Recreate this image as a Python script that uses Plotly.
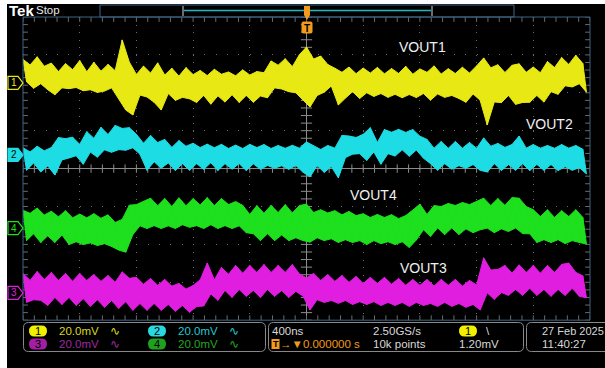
import numpy as np
import plotly.graph_objects as go

W, H = 605, 368

# ---------------- data ----------------
# time base 400 ns/div, 10 divisions -> -2000 .. 2000 ns; envelope samples every 50 ns
t_start_ns = -2000
t_step_ns = 50
half_step_ns = 25
mv_per_div = 20.0

# channel vertical positions (divisions from screen centre)
ch_position = {"1": 2.26, "2": 0.36, "4": -1.57, "3": -3.28}
ch_label = {"1": "VOUT1", "2": "VOUT2", "4": "VOUT4", "3": "VOUT3"}

# upper / lower noise envelope of each trace, mV relative to its ground marker
ch1_hi = [12.5, 9.5, 13.8, 8.8, 10.5, 6.0, 10.2, 7.0, 11.8, 5.9,
          10.9, 6.2, 9.8, 6.5, 22.7, 11.0, 4.5, 8.9, 5.2, 10.6,
          4.2, 7.8, 3.6, 8.1, 4.4, 6.6, 3.9, 7.2, 4.6, 5.8,
          3.8, 6.9, 4.2, 6.0, 5.4, 11.6, 9.4, 12.8, 8.6, 14.9,
          19.0, 12.6, 14.2, 9.7, 7.8, 5.6, 8.4, 4.9, 7.9, 5.2,
          8.2, 4.8, 7.6, 5.0, 8.8, 4.6, 7.4, 5.6, 9.0, 4.7,
          7.5, 5.0, 8.3, 5.2, 9.0, 13.2, 8.0, 9.6, 5.5, 9.3,
          10.1, 5.6, 8.4, 5.4, 11.3, 8.1, 13.4, 9.8, 14.6, 10.2]
ch1_lo = [0.6, -2.8, -0.4, -3.6, -6.2, -2.6, -3.0, -2.4, -4.1, -3.6,
          -5.0, -4.3, -2.6, -8.2, -14.3, -16.9, -6.4, -7.4, -10.2, -14.3,
          -5.6, -9.2, -7.6, -8.4, -10.3, -6.6, -11.2, -6.8, -10.1, -6.2,
          -10.3, -6.6, -10.2, -6.9, -7.8, -2.6, -3.2, -4.6, -5.2, -9.0,
          -12.7, -6.6, -4.9, -1.6, -11.6, -8.0, -4.6, -8.2, -5.2, -7.1,
          -5.6, -7.6, -6.0, -7.8, -6.1, -7.7, -5.6, -9.1, -5.8, -7.6,
          -6.6, -8.2, -10.2, -5.8, -9.1, -22.2, -10.0, -10.4, -6.6, -11.3,
          -10.3, -10.2, -6.6, -10.1, -4.6, -6.0, -1.5, -2.1, -0.4, -4.9]

ch2_hi = [3.8, 1.6, 4.6, 2.2, 3.9, 9.2, 8.6, 9.4, 5.6, 12.3,
          8.8, 14.6, 10.8, 15.6, 14.0, 14.4, 10.9, 6.2, 10.3, 6.6,
          8.2, 4.0, 7.6, 4.6, 6.2, 3.9, 5.7, 3.8, 5.6, 3.4,
          5.2, 3.4, 5.6, 3.9, 5.5, 3.4, 5.0, 3.5, 5.1, 3.6,
          6.9, 4.9, 2.9, 5.0, 3.6, 10.3, 10.0, 9.2, 10.9, 14.4,
          6.6, 13.4, 12.0, 13.5, 11.9, 13.4, 9.9, 8.2, 3.6, 7.1,
          3.5, 7.1, 3.6, 6.6, 3.5, 9.0, 4.6, 6.1, 4.0, 5.5,
          10.0, 3.6, 5.5, 3.6, 5.0, 3.5, 5.5, 3.6, 5.0, 3.0]
ch2_lo = [-8.1, -4.2, -9.0, -5.8, -10.6, -2.6, -1.6, -0.4, -4.9, 1.5,
          -1.2, 2.7, 1.4, 2.8, 2.5, 3.8, 0.4, -8.1, -3.6, -7.0,
          -4.2, -8.2, -4.6, -8.1, -4.6, -7.6, -4.1, -8.2, -4.6, -7.5,
          -4.6, -8.2, -4.7, -7.6, -5.6, -7.0, -5.7, -7.6, -5.6, -9.1,
          -11.6, -5.6, -9.2, -6.1, -12.1, -1.4, 0.4, 0.7, -2.9, 1.6,
          -4.9, 0.7, -0.6, 2.7, -0.7, 2.6, -1.7, -4.6, -8.1, -4.6,
          -7.5, -5.7, -7.0, -5.1, -8.1, -9.0, -4.6, -8.2, -5.1, -8.1,
          -4.6, -8.2, -5.0, -8.1, -5.1, -8.2, -6.2, -8.1, -6.7, -10.0]

ch4_hi = [9.4, 7.8, 10.6, 6.9, 8.9, 6.0, 9.2, 5.4, 7.4, 5.4,
          7.6, 5.2, 7.0, 3.0, 4.6, 12.1, 12.4, 14.2, 15.8, 11.8,
          15.6, 11.4, 16.0, 11.8, 15.6, 12.2, 16.1, 11.8, 15.6, 12.4,
          14.0, 12.0, 7.2, 11.9, 7.8, 12.0, 8.2, 12.4, 8.0, 11.9,
          12.7, 8.2, 9.7, 8.0, 9.2, 7.0, 8.8, 6.6, 7.6, 5.6,
          7.2, 5.6, 7.1, 5.0, 6.6, 9.5, 12.7, 7.2, 11.9, 11.4,
          13.0, 11.9, 13.5, 12.4, 14.0, 15.8, 11.9, 15.6, 12.0, 16.1,
          15.8, 11.4, 9.7, 6.1, 9.7, 5.6, 9.2, 6.1, 9.7, 5.6]
ch4_lo = [-6.6, -3.0, -7.6, -4.1, -7.6, -3.6, -8.7, -7.2, -8.7, -7.8,
          -9.2, -8.2, -9.7, -11.6, -12.7, -3.4, 1.2, -0.2, 1.3, -0.2,
          1.2, -0.2, 1.8, 0.4, 1.3, -0.2, 1.8, -0.2, 1.3, -0.2,
          1.2, -2.4, -3.0, -6.6, -3.0, -6.6, -3.6, -6.6, -5.1, -6.6,
          -7.4, -5.1, -6.6, -5.6, -7.6, -6.1, -7.6, -6.6, -8.7, -6.6,
          -8.2, -7.2, -8.7, -7.2, -10.2, -6.3, -0.9, -4.4, 0.1, -3.4,
          0.1, -3.4, -0.4, -2.4, -0.9, 0.0, -2.4, -0.4, -1.8, 0.1,
          -2.9, -3.0, -7.6, -6.1, -7.6, -6.1, -8.2, -6.6, -7.6, -8.4]

ch3_hi = [10.3, 6.6, 11.3, 7.1, 10.8, 6.6, 10.3, 6.1, 10.3, 6.6,
          9.7, 6.1, 9.2, 5.6, 11.1, 7.7, 8.2, 4.6, 7.6, 4.0,
          7.1, 3.6, 5.0, 2.0, 3.9, 6.9, 15.8, 6.9, 13.4, 9.8,
          14.5, 10.4, 14.5, 10.8, 15.0, 10.8, 14.5, 10.8, 15.0, 10.0,
          7.9, 10.3, 6.6, 9.7, 6.1, 9.2, 5.6, 8.7, 5.0, 8.2,
          5.0, 8.2, 4.6, 7.6, 4.0, 7.1, 4.0, 7.1, 3.6, 7.1,
          4.0, 7.1, 3.6, 6.6, 4.2, 18.5, 12.1, 12.4, 14.5, 10.4,
          14.8, 10.8, 14.5, 10.4, 14.5, 10.8, 15.0, 15.8, 10.8, 9.0]
ch3_lo = [-5.0, -3.6, -3.9, -6.6, -2.4, -6.1, -2.4, -6.6, -3.0, -7.1,
          -3.6, -7.6, -4.0, -8.2, -4.6, -9.2, -5.6, -9.2, -5.6, -9.2,
          -6.1, -9.7, -6.6, -10.2, -7.2, -6.9, -0.5, -3.9, 1.3, -2.4,
          1.8, -1.8, 1.3, -2.4, 1.8, -1.8, 1.3, -2.4, 0.8, -1.6,
          -9.0, -3.6, -5.0, -4.0, -5.5, -4.0, -6.1, -4.6, -6.1, -4.6,
          -6.6, -5.0, -6.6, -5.0, -7.1, -5.0, -6.6, -5.6, -7.1, -5.0,
          -7.1, -5.6, -7.6, -6.1, -9.0, 0.0, -3.4, 0.2, -1.3, 1.8,
          -1.3, 2.4, -1.3, 1.8, -1.8, 1.8, -1.3, 2.4, -1.8, -2.6]

envelopes = {"1": (ch1_hi, ch1_lo), "2": (ch2_hi, ch2_lo),
             "4": (ch4_hi, ch4_lo), "3": (ch3_hi, ch3_lo)}

# ---------------- styling ----------------
COL = {"1": "#e8e814", "2": "#1edce4", "4": "#1ee01e", "3": "#e01ee0"}
FONT = "Liberation Sans, Arial, sans-serif"
X0, X1, Y0, Y1 = 23, 590, 17, 320.2  # screen (graticule) in pixels
PX_PER_DIV_Y = (Y1 - Y0) / 8

fig = go.Figure()

# graticule minor ticks on the centre lines and the edges
minor_t = np.arange(-2000, 2000.1, 80)
minor_v = np.arange(-4, 4.001, 0.2)
tick_col = "#8c8c8c"
fig.add_trace(go.Scatter(x=minor_t, y=np.zeros_like(minor_t), mode="markers",
                         marker=dict(symbol="line-ns", size=6, line=dict(color=tick_col, width=1)),
                         hoverinfo="skip"))
fig.add_trace(go.Scatter(x=np.zeros_like(minor_v), y=minor_v, mode="markers",
                         marker=dict(symbol="line-ew", size=8, line=dict(color=tick_col, width=1)),
                         hoverinfo="skip"))
for yy in (4, -4):
    fig.add_trace(go.Scatter(x=minor_t, y=np.full_like(minor_t, yy), mode="markers",
                             marker=dict(symbol="line-ns", size=7, line=dict(color="#6a6a6a", width=1)),
                             hoverinfo="skip"))
for xx in (2000, -2000):
    fig.add_trace(go.Scatter(x=np.full_like(minor_v, xx), y=minor_v, mode="markers",
                             marker=dict(symbol="line-ew", size=7, line=dict(color="#6a6a6a", width=1)),
                             hoverinfo="skip"))

# waveforms: noise band between the lower and upper envelopes, plus the sample zig-zag
for ch in ["1", "2", "4", "3"]:
    hi, lo = envelopes[ch]
    n = len(hi)
    t_hi = t_start_ns + t_step_ns * np.arange(n)
    t_lo = t_hi + half_step_ns
    y_hi = ch_position[ch] + np.array(hi) / mv_per_div
    y_lo = ch_position[ch] + np.array(lo) / mv_per_div
    fig.add_trace(go.Scatter(x=t_lo, y=y_lo, mode="lines", line=dict(color=COL[ch], width=1),
                             hoverinfo="skip"))
    fig.add_trace(go.Scatter(x=t_hi, y=y_hi, mode="lines", line=dict(color=COL[ch], width=1),
                             fill="tonexty", fillcolor=COL[ch], hoverinfo="skip", name=ch_label[ch]))
    t = np.empty(2 * n)
    v = np.empty(2 * n)
    t[0::2], t[1::2] = t_hi, t_lo
    v[0::2], v[1::2] = y_hi, y_lo
    fig.add_trace(go.Scatter(x=t, y=v, mode="lines", line=dict(color=COL[ch], width=1),
                             hoverinfo="skip"))

# ---------------- helpers ----------------
def fx(x):
    return x / W


def fy(y):
    return 1 - y / H


def pt(x, y):
    return f"{fx(x):.5f},{fy(y):.5f}"


def rrect(x0, y0, x1, y1, r):
    return ("M " + pt(x0 + r, y0) + " L " + pt(x1 - r, y0) + " Q " + pt(x1, y0) + " " + pt(x1, y0 + r) +
            " L " + pt(x1, y1 - r) + " Q " + pt(x1, y1) + " " + pt(x1 - r, y1) +
            " L " + pt(x0 + r, y1) + " Q " + pt(x0, y1) + " " + pt(x0, y1 - r) +
            " L " + pt(x0, y0 + r) + " Q " + pt(x0, y0) + " " + pt(x0 + r, y0) + " Z")


shapes = []
annos = []


def txt(x, y, s, color="#d8d8d8", size=11, anchor="left", bold=False, family=FONT):
    annos.append(dict(xref="paper", yref="paper", x=fx(x), y=fy(y), text=(f"<b>{s}</b>" if bold else s),
                      showarrow=False, xanchor=anchor, yanchor="middle",
                      font=dict(family=family, size=size, color=color), borderpad=0))


# black instrument background
shapes.append(dict(type="rect", xref="paper", yref="paper", x0=fx(7), x1=1.01, y0=-0.01, y1=fy(4),
                   fillcolor="black", line=dict(width=0), layer="below"))
# screen frame
frame_col = "#3f6585"
shapes.append(dict(type="rect", xref="x domain", yref="y domain", x0=0, x1=1, y0=0, y1=1,
                   line=dict(color=frame_col, width=1)))

# top bar: record view
shapes.append(dict(type="rect", xref="paper", yref="paper", x0=fx(100), x1=fx(514), y0=fy(17), y1=fy(5),
                   line=dict(color=frame_col, width=1)))
shapes.append(dict(type="line", xref="paper", yref="paper", x0=fx(184), x1=fx(431), y0=fy(10.5), y1=fy(10.5),
                   line=dict(color="#20b8c0", width=1.5)))
for bx in (183, 432):
    shapes.append(dict(type="line", xref="paper", yref="paper", x0=fx(bx), x1=fx(bx), y0=fy(6), y1=fy(16),
                       line=dict(color="#909090", width=1.5)))
txt(8, 10, "Tek", "#ffffff", 15, bold=True)
txt(35, 10, "Stop", "#e8e8e8", 11.5)

# trigger position markers (orange)
ORANGE = "#f39a1c"
shapes.append(dict(type="path", xref="paper", yref="paper",
                   path="M " + pt(304, 6) + " L " + pt(310, 6) + " L " + pt(310, 15) + " L " + pt(307, 20) +
                        " L " + pt(304, 15) + " Z",
                   fillcolor=ORANGE, line=dict(width=0)))
shapes.append(dict(type="path", xref="paper", yref="paper", path=rrect(301.5, 21.5, 312.5, 33.5, 2),
                   fillcolor=ORANGE, line=dict(width=0)))
txt(307, 28, "T", "#000000", 10, anchor="center", bold=True)

# channel ground markers on the left
tag_h = 6.5 / PX_PER_DIV_Y
for ch in ["1", "2", "4", "3"]:
    yc = ch_position[ch]
    filled = ch == "2"
    path = (f"M {fx(8):.5f},{yc + tag_h:.5f} L {fx(18):.5f},{yc + tag_h:.5f} L {fx(23):.5f},{yc:.5f} "
            f"L {fx(18):.5f},{yc - tag_h:.5f} L {fx(8):.5f},{yc - tag_h:.5f} Z")
    shapes.append(dict(type="path", xref="paper", yref="y", path=path,
                       fillcolor=COL[ch] if filled else "black", line=dict(color=COL[ch], width=1.2)))
    annos.append(dict(xref="paper", yref="y", x=fx(14), y=yc, text=ch, showarrow=False,
                      xanchor="center", yanchor="middle",
                      font=dict(family=FONT, size=10, color="black" if filled else COL[ch])))

# channel labels
label_pos = {"1": (638, 3.21), "2": (1534, 1.17), "4": (293, -0.70), "3": (645, -2.63)}
for ch, (lx, ly) in label_pos.items():
    annos.append(dict(xref="x", yref="y", x=lx, y=ly, text=ch_label[ch], showarrow=False,
                      xanchor="left", yanchor="middle",
                      font=dict(family=FONT, size=14, color="#f0f0f0")))

# ---------------- bottom status bar ----------------
box_col = "#8a8a8a"
shapes.append(dict(type="path", xref="paper", yref="paper", path=rrect(23.5, 322.5, 265.5, 351.5, 5),
                   line=dict(color=box_col, width=1)))
shapes.append(dict(type="path", xref="paper", yref="paper", path=rrect(268.5, 322.5, 523.5, 351.5, 5),
                   line=dict(color=box_col, width=1)))
shapes.append(dict(type="path", xref="paper", yref="paper", path=rrect(526.5, 322.5, 640, 351.5, 5),
                   line=dict(color=box_col, width=1)))

ch_settings = [("1", "20.0mV", 29, 331, "#f0f000", "#d8d820"),
               ("2", "20.0mV", 148, 331, "#2ad8e0", "#22c8d0"),
               ("3", "20.0mV", 29, 344, "#a21ea2", "#a028a0"),
               ("4", "20.0mV", 148, 344, "#1fa01f", "#20a820")]
for ch, s, x0, yc, pill, tcol in ch_settings:
    shapes.append(dict(type="path", xref="paper", yref="paper", path=rrect(x0, yc - 5.5, x0 + 18, yc + 5.5, 5.5),
                       fillcolor=pill, line=dict(width=0)))
    txt(x0 + 9, yc, ch, "#000000", 11, anchor="center")
    txt(x0 + 29, yc, s, tcol, 11.5)
    txt(x0 + 80, yc, "∿", tcol, 12, family="DejaVu Sans")

# horizontal / acquisition / trigger box
txt(271, 331, "400ns", "#d8d8d8", 11.5)
txt(372, 331, "2.50GS/s", "#d8d8d8", 11.5)
shapes.append(dict(type="path", xref="paper", yref="paper", path=rrect(459, 325.5, 477, 336.5, 5.5),
                   fillcolor="#f0f000", line=dict(width=0)))
txt(468, 331, "1", "#000000", 11, anchor="center")
txt(485, 331, "\\", "#d8d8d8", 11.5)
shapes.append(dict(type="rect", xref="paper", yref="paper", x0=fx(271.5), x1=fx(279.5), y0=fy(349), y1=fy(339),
                   fillcolor=ORANGE, line=dict(width=0)))
txt(275.5, 344, "T", "#000000", 9, anchor="center", bold=True)
txt(279, 344, "→▼0.000000 s", ORANGE, 11.5)
txt(372, 344, "10k points", "#d8d8d8", 11.5)
txt(458, 344, "1.20mV", "#d8d8d8", 11.5)
txt(541, 331, "27 Feb 2025", "#d8d8d8", 11)
txt(541, 344, "11:40:27", "#d8d8d8", 11.5)

fig.update_layout(
    width=W, height=H, autosize=False,
    margin=dict(l=0, r=0, t=0, b=0),
    paper_bgcolor="white", plot_bgcolor="black",
    showlegend=False, hovermode=False,
    shapes=shapes, annotations=annos,
    xaxis=dict(domain=[X0 / W, X1 / W], range=[-2000, 2000], dtick=400, tick0=-2000,
               showgrid=True, gridcolor="#6c6c6c", griddash="1px,6.58px", gridwidth=1,
               zeroline=True, zerolinecolor="#8c8c8c", zerolinewidth=1,
               showticklabels=False, ticks="", showline=False, fixedrange=True),
    yaxis=dict(domain=[1 - Y1 / H, 1 - Y0 / H], range=[-4, 4], dtick=1, tick0=0,
               showgrid=True, gridcolor="#6c6c6c", griddash="1px,10.34px", gridwidth=1,
               zeroline=True, zerolinecolor="#8c8c8c", zerolinewidth=1,
               showticklabels=False, ticks="", showline=False, fixedrange=True),
)

fig.write_html("out.html", config={"displayModeBar": False, "staticPlot": True},
               post_script="document.body.style.margin='0';document.body.style.overflow='hidden';")
